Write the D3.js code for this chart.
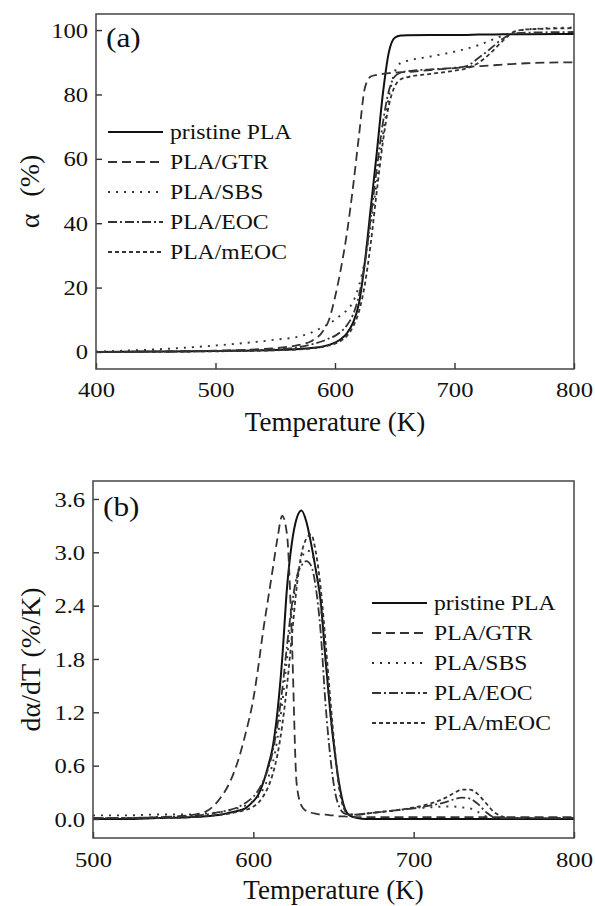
<!DOCTYPE html>
<html>
<head>
<meta charset="utf-8">
<script src="https://cdn.jsdelivr.net/npm/d3@7"></script>
<style>
  html, body { margin: 0; padding: 0; background: #fff; }
  svg text { font-family: "Liberation Serif", "Times New Roman", serif; fill: #111; }
</style>
</head>
<body>
<svg id="fig" width="595" height="906"></svg>
<script>
// ---- data -------------------------------------------------------------
const seriesNames = ["pristine PLA", "PLA/GTR", "PLA/SBS", "PLA/EOC", "PLA/mEOC"];

// (a) conversion alpha (%) vs temperature (K)
const tempA = [400, 450, 500, 550, 570, 580, 590, 595, 600, 605, 610, 615, 620, 625, 630,
               635, 640, 645, 650, 655, 660, 680, 700, 710, 720, 730, 740, 750, 760, 800];
const alphaPristine = [0, 0.1, 0.3, 0.6, 0.9, 1.2, 1.7, 2.2, 2.9, 4, 5.8, 9, 15, 28, 45,
                       62, 80, 93, 97.6, 98.3, 98.4, 98.5, 98.5, 98.5, 98.6, 98.6, 98.7, 98.7, 98.7, 98.8];
const alphaGTR = [0, 0.1, 0.4, 1.2, 2.2, 3.3, 6.5, 10, 17, 26, 37, 51, 67, 82, 85.6,
                  86.1, 86.4, 86.6, 86.8, 86.9, 87, 87.6, 88.2, 88.5, 88.8, 89, 89.3, 89.5, 89.7, 90];
const alphaSBS = [0.1, 0.8, 2, 3.8, 4.8, 6, 7.8, 8.8, 10, 11.5, 13, 15.5, 20.5, 28.5, 40,
                  53, 67, 79, 87, 89.8, 90.4, 91.8, 93.3, 94.2, 95.3, 96.8, 98.2, 99.5, 100.2, 100.8];
const alphaEOC = [0, 0.1, 0.3, 0.8, 1.5, 2.3, 3.4, 4.2, 5, 6.3, 8.3, 11.5, 17.5, 27.5, 42,
                  57, 71, 81, 85.6, 86.8, 87.2, 87.8, 88.3, 88.8, 91.3, 94.2, 97.2, 99, 99.2, 99.4];
const alphaMEOC = [0, 0.1, 0.2, 0.5, 0.8, 1.1, 1.6, 2, 2.6, 3.5, 5, 7.8, 12.5, 21, 34,
                   50, 65, 76.5, 82.5, 84.7, 85.3, 86.4, 87.4, 88.1, 89.8, 92.8, 96.5, 99.5, 100.2, 100.6];

// (b) conversion rate d(alpha)/dT (%/K) vs temperature (K)
const tempB = [500, 520, 540, 560, 570, 580, 585, 590, 595, 600, 603, 606, 609, 612, 615,
               618, 621, 624, 627, 630, 633, 636, 639, 642, 645, 648, 651, 654, 657, 660,
               665, 670, 680, 690, 700, 710, 720, 725, 730, 735, 740, 745, 750, 755, 760,
               770, 780, 790, 800];
const ratePristine = [0, 0, 0.01, 0.02, 0.03, 0.05, 0.07, 0.09, 0.12, 0.2, 0.27, 0.4, 0.58, 0.8, 1.2,
                      1.8, 2.6, 3.1, 3.38, 3.47, 3.35, 3.1, 2.8, 2.45, 1.8, 1.2, 0.72, 0.35, 0.12, 0.04,
                      0.01, 0, 0, 0, 0, 0, 0, 0, 0, 0, 0, 0, 0, 0, 0,
                      0, 0, 0, 0];
const rateGTR = [0.01, 0.01, 0.02, 0.04, 0.08, 0.25, 0.4, 0.63, 0.95, 1.35, 1.7, 2.1, 2.45, 2.8, 3.15,
                 3.41, 3.2, 2.05, 0.4, 0.15, 0.09, 0.07, 0.06, 0.05, 0.05, 0.04, 0.04, 0.03, 0.03, 0.02,
                 0.02, 0.02, 0.02, 0.02, 0.02, 0.02, 0.02, 0.02, 0.02, 0.02, 0.02, 0.02, 0.02, 0.02, 0.02,
                 0.02, 0.02, 0.02, 0.02];
const rateSBS = [0.04, 0.04, 0.05, 0.05, 0.06, 0.08, 0.1, 0.12, 0.15, 0.2, 0.25, 0.33, 0.45, 0.62, 0.9,
                 1.3, 1.8, 2.3, 2.7, 2.92, 3.02, 3.0, 2.8, 2.4, 1.8, 1.2, 0.7, 0.3, 0.1, 0.05,
                 0.05, 0.06, 0.08, 0.1, 0.12, 0.13, 0.14, 0.14, 0.13, 0.12, 0.08, 0.03, 0.01, 0.01, 0.01,
                 0.01, 0.01, 0.01, 0.01];
const rateEOC = [0.01, 0.01, 0.02, 0.03, 0.05, 0.08, 0.1, 0.13, 0.18, 0.25, 0.32, 0.42, 0.55, 0.75, 1.05,
                 1.45, 1.95, 2.4, 2.72, 2.85, 2.9, 2.85, 2.6, 2.1, 1.3, 0.7, 0.3, 0.12, 0.06, 0.05,
                 0.05, 0.06, 0.08, 0.1, 0.12, 0.15, 0.19, 0.22, 0.24, 0.23, 0.17, 0.08, 0.02, 0.01, 0.01,
                 0.01, 0.01, 0.01, 0.01];
const rateMEOC = [0.01, 0.01, 0.01, 0.02, 0.03, 0.05, 0.06, 0.08, 0.1, 0.14, 0.18, 0.25, 0.35, 0.5, 0.72,
                  1.05, 1.5, 2.05, 2.6, 2.98, 3.15, 3.2, 3.0, 2.6, 2.0, 1.35, 0.75, 0.3, 0.1, 0.05,
                  0.05, 0.06, 0.08, 0.1, 0.13, 0.17, 0.24, 0.29, 0.33, 0.33, 0.28, 0.18, 0.08, 0.03, 0.01,
                  0.01, 0.01, 0.01, 0.01];

const ticksXA = [400, 500, 600, 700, 800];
const ticksYA = [0, 20, 40, 60, 80, 100];
const ticksXB = [500, 600, 700, 800];
const ticksYB = [0, 0.6, 1.2, 1.8, 2.4, 3.0, 3.6];

// ---- line styles ------------------------------------------------------
const styles = {
  "pristine PLA": { dash: null,      width: 2.0, color: "#111" },
  "PLA/GTR":      { dash: "9,5",     width: 1.8, color: "#333" },
  "PLA/SBS":      { dash: "2,6",     width: 1.9, color: "#333" },
  "PLA/EOC":      { dash: "9,3,2,3", width: 1.8, color: "#333" },
  "PLA/mEOC":     { dash: "4,3",     width: 1.8, color: "#333" }
};
const STRETCH = "scale(1.12,1)";

const svg = d3.select("#fig");

function drawPanel(cfg) {
  const x = d3.scaleLinear().domain(cfg.xDomain).range([cfg.left, cfg.right]);
  const y = d3.scaleLinear().domain(cfg.yDomain).range([cfg.bottom, cfg.top]);
  const g = svg.append("g");

  // curves
  const line = d3.line()
    .x(d => x(d[0]))
    .y(d => y(d[1]))
    .curve(d3.curveMonotoneX);
  cfg.series.forEach((vals, i) => {
    const st = styles[seriesNames[i]];
    const pts = cfg.temps.map((t, j) => [t, vals[j]]);
    g.append("path")
      .datum(pts)
      .attr("d", line)
      .attr("fill", "none")
      .attr("stroke", st.color)
      .attr("stroke-width", st.width)
      .attr("stroke-dasharray", st.dash)
      .attr("stroke-linejoin", "round");
  });

  // axes with inward ticks
  const xAxis = d3.axisBottom(x).tickValues(cfg.xTicks).tickSizeInner(-6).tickSizeOuter(0)
    .tickPadding(cfg.xPad).tickFormat(d3.format("d"));
  const yAxis = d3.axisLeft(y).tickValues(cfg.yTicks).tickSizeInner(-6).tickSizeOuter(0)
    .tickPadding(7).tickFormat(cfg.yFormat);

  const gx = g.append("g").attr("transform", `translate(0,${cfg.bottom})`).call(xAxis);
  const gy = g.append("g").attr("transform", `translate(${cfg.left},0)`).call(yAxis);
  [gx, gy].forEach(a => {
    a.select(".domain").remove();
    a.selectAll("line").attr("stroke", "#333").attr("stroke-width", 1.4);
    a.selectAll("text")
      .attr("font-size", 22)
      .attr("font-family", "Liberation Serif, serif")
      .attr("fill", "#111")
      .attr("transform", STRETCH);
  });

  // frame
  g.append("rect")
    .attr("x", cfg.left).attr("y", cfg.top)
    .attr("width", cfg.right - cfg.left).attr("height", cfg.bottom - cfg.top)
    .attr("fill", "none").attr("stroke", "#444").attr("stroke-width", 1.5);

  // panel label
  g.append("text")
    .attr("transform", `translate(${cfg.left + 10},${cfg.top + cfg.tagDy}) ${STRETCH}`)
    .attr("font-size", 28)
    .text(cfg.tag);

  // axis titles
  g.append("text")
    .attr("x", (cfg.left + cfg.right) / 2)
    .attr("y", cfg.xTitleY)
    .attr("text-anchor", "middle")
    .attr("font-size", 27)
    .text("Temperature (K)");
  const yt = g.append("text")
    .attr("transform", `translate(${cfg.yTitleX},${(cfg.top + cfg.bottom) / 2}) rotate(-90)`)
    .attr("text-anchor", "middle")
    .attr("font-size", 28);
  cfg.yTitle.forEach((part, k) => {
    yt.append("tspan").attr("dx", k === 0 ? 0 : cfg.yTitleGap).text(part);
  });

  // legend
  const lg = g.append("g");
  seriesNames.forEach((name, i) => {
    const st = styles[name];
    const cy = cfg.legY + i * 30;
    lg.append("line")
      .attr("x1", cfg.legX).attr("x2", cfg.legX + 55)
      .attr("y1", cy).attr("y2", cy)
      .attr("stroke", st.color)
      .attr("stroke-width", st.width)
      .attr("stroke-dasharray", st.dash);
    lg.append("text")
      .attr("transform", `translate(${cfg.legX + 62},${cy + 7}) scale(1.1,1)`)
      .attr("font-size", 21.5)
      .text(name);
  });
}

drawPanel({
  left: 96, right: 574, top: 14, bottom: 369,
  xDomain: [400, 800], yDomain: [-5.3, 105],
  xTicks: ticksXA, yTicks: ticksYA, yFormat: d3.format("d"), xPad: 12,
  temps: tempA,
  series: [alphaPristine, alphaGTR, alphaSBS, alphaEOC, alphaMEOC],
  tag: "(a)", tagDy: 33,
  xTitleY: 431, yTitleX: 39, yTitle: ["α", " (%)"], yTitleGap: 10,
  legX: 108, legY: 132
});

drawPanel({
  left: 93, right: 574, top: 481, bottom: 838,
  xDomain: [500, 800], yDomain: [-0.214, 3.802],
  xTicks: ticksXB, yTicks: ticksYB, yFormat: d3.format(".1f"), xPad: 13,
  temps: tempB,
  series: [ratePristine, rateGTR, rateSBS, rateEOC, rateMEOC],
  tag: "(b)", tagDy: 35,
  xTitleY: 899, yTitleX: 40, yTitle: ["dα/dT (%/K)"], yTitleGap: 0,
  legX: 372, legY: 603
});
</script>
</body>
</html>
